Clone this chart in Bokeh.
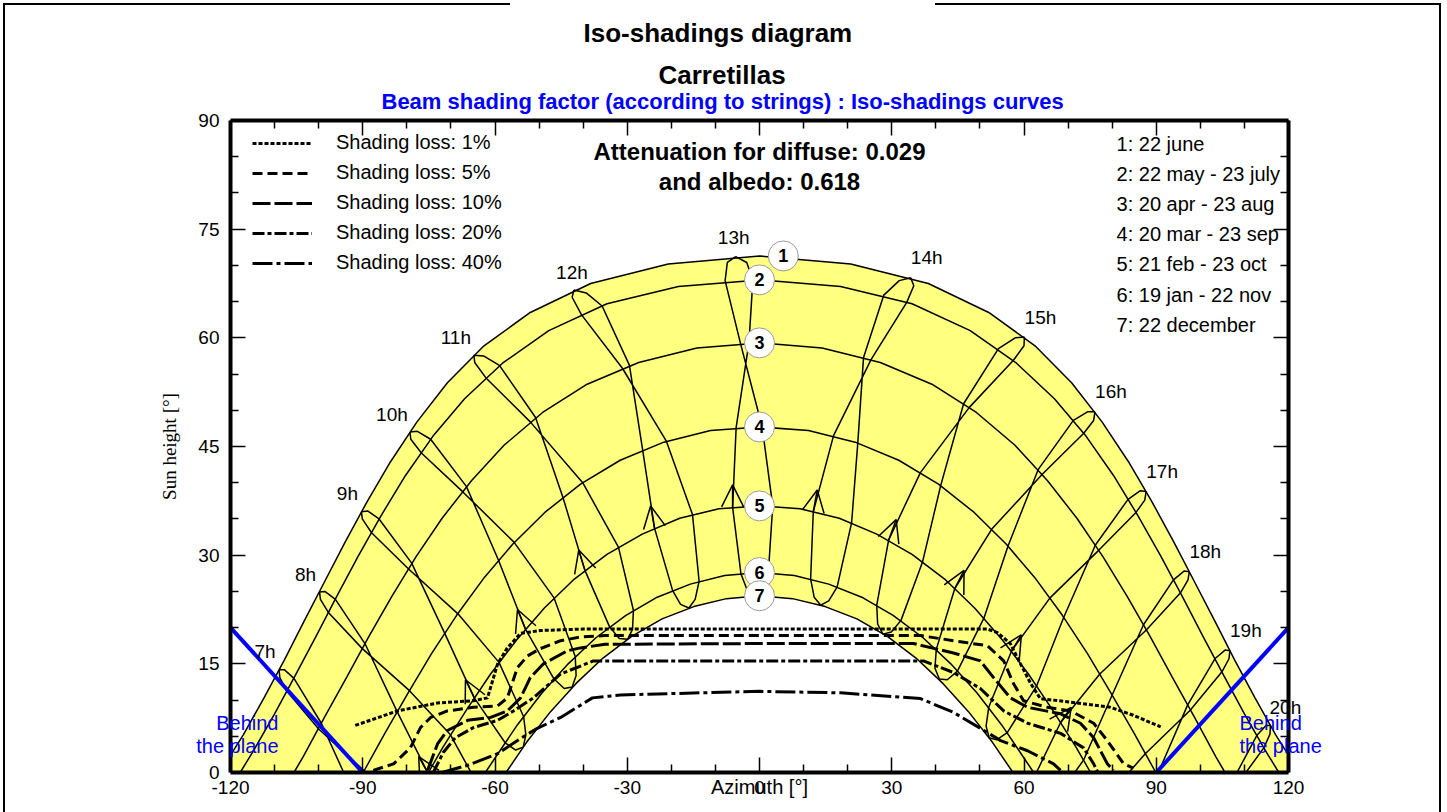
import math
from bokeh.plotting import figure
from bokeh.models import (Range1d, LinearAxis, FixedTicker, Legend, LegendItem, Title,
                          Arrow, OpenHead, ColumnDataSource, Label)
from bokeh.embed import file_html
from bokeh.resources import INLINE
from bokeh.core.properties import value

# ---------------- sun paths for the 7 dates (azimuth, height) ----------------
date_labels = ["1: 22 june", "2: 22 may - 23 july", "3: 20 apr - 23 aug", "4: 20 mar - 23 sep",
               "5: 21 feb - 23 oct", "6: 19 jan - 22 nov", "7: 22 december"]
path1_az = [-122.5,-117.1,-112.4,-107.8,-103.3,-98.7,-94,-89,-83.7,-77.7,-70.8,-62.5,-52,-38.3,-20.7,0,20.7,38.3,52,62.5,70.8,77.7,83.7,89,94,98.7,103.3,107.8,112.4,117.1,122.5]
path1_h = [0,5.2,10.3,15.5,20.9,26.3,31.8,37.4,42.9,48.4,53.8,58.9,63.5,67.5,70.2,71.3,70.2,67.5,63.5,58.9,53.8,48.4,42.9,37.4,31.8,26.3,20.9,15.5,10.3,5.2,0]
path2_az = [-117.8,-114.8,-110.0,-105.3,-100.6,-95.9,-91.0,-85.9,-80.3,-74.1,-66.9,-58.3,-47.8,-34.6,-18.4,0,18.4,34.6,47.8,58.3,66.9,74.1,80.3,85.9,91.0,95.9,100.6,105.3,110.0,114.8,117.8]
path2_h = [0,3.0,8.1,13.4,18.8,24.3,29.9,35.4,41.0,46.4,51.6,56.5,61.0,64.7,67.1,68.0,67.1,64.7,61.0,56.5,51.6,46.4,41.0,35.4,29.9,24.3,18.8,13.4,8.1,3.0,0]
path3_az = [-105.6,-103.5,-98.6,-93.6,-88.6,-83.4,-77.9,-72.0,-65.3,-57.9,-49.2,-39.1,-27.4,-14.2,0,14.2,27.4,39.1,49.2,57.9,65.3,72.0,77.9,83.4,88.6,93.6,98.6,103.5,105.6]
path3_h = [0,2.2,7.7,13.2,18.8,24.3,29.8,35.1,40.3,45.2,49.7,53.6,56.6,58.6,59.3,58.6,56.6,53.6,49.7,45.2,40.3,35.1,29.8,24.3,18.8,13.2,7.7,2.2,0]
path4_az = [-89.9,-84.9,-79.7,-74.4,-68.7,-62.7,-56.0,-48.7,-40.6,-31.6,-21.7,-11.1,0,11.1,21.7,31.6,40.6,48.7,56.0,62.7,68.7,74.4,79.7,84.9,89.9]
path4_h = [0,5.5,11.0,16.4,21.7,26.7,31.5,35.9,39.8,43.1,45.6,47.2,47.7,47.2,45.6,43.1,39.8,35.9,31.5,26.7,21.7,16.4,11.0,5.5,0]
path5_az = [-75.1,-71.8,-66.5,-61,-55.1,-48.8,-42,-34.6,-26.6,-18.1,-9.2,0,9.2,18.1,26.6,34.6,42,48.8,55.1,61,66.5,71.8,75.1]
path5_h = [0,3.5,8.6,13.6,18.3,22.7,26.7,30.1,32.9,35.1,36.4,36.8,36.4,35.1,32.9,30.1,26.7,22.7,18.3,13.6,8.6,3.5,0]
path6_az = [-62.2,-60.1,-54.9,-49.3,-43.4,-37.1,-30.3,-23.2,-15.7,-7.9,0,7.9,15.7,23.2,30.3,37.1,43.4,49.3,54.9,60.1,62.2]
path6_h = [0,1.9,6.6,11,15,18.6,21.7,24.2,26,27.2,27.6,27.2,26,24.2,21.7,18.6,15,11,6.6,1.9,0]
path7_az = [-57.5,-52.8,-47.4,-41.6,-35.5,-29,-22.1,-14.9,-7.5,0,7.5,14.9,22.1,29,35.5,41.6,47.4,52.8,57.5]
path7_h = [0,4.2,8.4,12.3,15.8,18.8,21.2,22.9,24,24.4,24,22.9,21.2,18.8,15.8,12.3,8.4,4.2,0]
paths_az = [path1_az, path2_az, path3_az, path4_az, path5_az, path6_az, path7_az]
paths_h = [path1_h, path2_h, path3_h, path4_h, path5_h, path6_h, path7_h]

# ---------------- hour lines (22 jun, 7 jul, 23 jul, 23 aug, 23 sep, 23 oct, 22 nov, 7 dec,
#                  22 dec, 6 jan, 19 jan, 21 feb, 20 mar, 20 apr, 22 may, 6 jun) ----------------
hours = [7, 8, 9, 10, 11, 12, 13, 14, 15, 16, 17, 18, 19, 20]
hour_az = [
    [-109.0,-108.8,-107.2,-100.0,-89.6,-80.2,-73.5,-72.6,-72.9,-74.6,-77.2,-85.1,-92.3,-99.4,-105.6,-107.8],
    [-99.8,-99.6,-97.8,-90.1,-79.4,-70.1,-63.9,-63.1,-63.6,-65.3,-67.8,-75.2,-82.2,-89.5,-96.2,-98.6],
    [-90.3,-90.1,-88.0,-79.6,-68.4,-59.1,-53.5,-53.0,-53.6,-55.3,-57.7,-64.7,-71.4,-78.9,-86.3,-88.9],
    [-79.3,-79.1,-76.7,-67.4,-55.7,-46.6,-41.8,-41.6,-42.5,-44.3,-46.6,-53.1,-59.2,-66.5,-74.6,-77.6],
    [-64.8,-64.6,-62.1,-52.0,-40.1,-32.0,-28.6,-28.8,-29.9,-31.8,-34.0,-39.6,-44.6,-50.8,-59.0,-62.6],
    [-42.1,-42.5,-40.4,-31.1,-21.1,-15.2,-13.7,-14.6,-16.0,-17.9,-19.7,-23.8,-26.5,-29.5,-35.7,-39.3],
    [-5.4,-7.3,-7.8,-4.3,0.6,3.0,2.0,0.6,-1.1,-2.8,-4.2,-6.1,-5.3,-2.4,-1.5,-2.9],
    [34.3,31.7,28.2,23.6,22.3,20.9,17.6,15.7,13.9,12.4,11.6,12.2,16.8,25.3,33.4,35.0],
    [60.1,58.0,54.2,46.3,41.1,37.0,32.1,29.9,28.0,26.8,26.6,29.3,36.5,47.6,57.6,60.0],
    [76.1,74.5,71.2,63.2,56.4,50.9,44.9,42.6,40.8,39.8,40.1,44.3,52.7,64.2,73.5,75.8],
    [87.7,86.4,83.6,76.2,69.0,62.9,56.2,53.8,52.1,51.4,52.0,57.2,65.9,77.0,85.4,87.4],
    [97.5,96.3,93.9,87.1,80.0,73.5,66.4,63.9,62.2,61.7,62.5,68.3,77.2,87.8,95.5,97.2],
    [106.7,105.6,103.3,97.1,90.2,83.4,75.9,73.3,71.6,71.2,72.2,78.5,87.5,97.7,104.9,106.5],
    [115.9,114.9,112.8,107.0,100.4,93.5,85.3,82.5,80.7,80.4,81.6,88.4,97.7,107.7,114.4,115.8],
]
hour_h = [
    [14.2,13.1,11.2,6.0,0.2,-5.6,-12.1,-14.5,-16.2,-16.9,-16.3,-11.0,-2.7,6.8,13.0,14.2],
    [24.9,23.9,22.1,17.1,11.3,5.2,-1.7,-4.2,-5.9,-6.5,-5.7,-0.1,8.4,17.8,23.9,25.0],
    [36.0,35.0,33.1,28.1,21.9,15.2,7.7,5.2,3.5,3.1,4.1,10.3,19.2,28.9,35.0,36.1],
    [47.0,46.0,44.1,38.8,31.8,24.1,16.0,13.4,11.8,11.6,12.9,19.8,29.3,39.5,46.0,47.1],
    [57.6,56.6,54.5,48.4,40.0,31.1,22.4,19.8,18.4,18.5,20.1,27.9,38.0,49.0,56.2,57.5],
    [66.6,65.6,63.2,55.8,45.7,35.6,26.4,23.9,22.7,23.2,25.1,33.7,44.5,56.2,64.4,66.2],
    [71.2,70.4,67.9,59.2,47.7,36.8,27.5,25.3,24.4,25.2,27.4,36.6,47.6,59.3,68.0,70.4],
    [68.3,67.9,65.9,57.3,45.5,34.5,25.6,23.7,23.1,24.2,26.7,36.0,46.5,57.0,64.9,67.2],
    [60.1,60.0,58.5,50.9,39.6,29.1,21.0,19.4,19.1,20.5,23.1,32.1,41.4,50.4,56.9,58.9],
    [49.8,49.8,48.6,41.8,31.3,21.3,14.0,12.8,12.9,14.4,17.0,25.4,33.6,41.2,46.8,48.6],
    [38.8,38.9,37.7,31.4,21.4,12.0,5.5,4.5,4.8,6.4,9.0,16.8,24.1,30.7,35.9,37.6],
    [27.7,27.8,26.6,20.4,10.7,1.7,-4.3,-5.0,-4.5,-2.8,-0.4,6.9,13.6,19.7,24.8,26.6],
    [16.8,16.9,15.7,9.3,-0.4,-9.2,-14.8,-15.3,-14.7,-13.0,-10.6,-3.7,2.6,8.6,13.9,15.7],
    [6.5,6.5,5.1,-1.5,-11.4,-20.2,-25.7,-26.2,-25.5,-23.8,-21.4,-14.7,-8.5,-2.2,3.4,5.3],
]
# direction arrows on the hour lines (21 feb -> 1 mar), 8h..18h
arrow_from_az = [-75.2,-64.7,-53.1,-39.6,-23.8,-6.1,12.2,29.3,44.3,57.2,68.3]
arrow_from_h = [-0.1,10.3,19.8,27.9,33.7,36.6,36.0,32.1,25.4,16.8,6.9]
arrow_to_az = [-77.3,-66.7,-54.9,-41.0,-24.7,-6.1,13.1,31.0,46.4,59.4,70.7]
arrow_to_h = [2.2,12.8,22.5,30.7,36.8,39.7,39.0,34.9,27.9,19.0,9.0]

# ---------------- iso-shading curves ----------------
iso_labels = ["Shading loss: 1%", "Shading loss: 5%", "Shading loss: 10%", "Shading loss: 20%", "Shading loss: 40%"]
iso1_az = [-91.7,-82.1,-73.0,-64.9,-61.7,-59.4,-57.2,-54.2,-49.7,-40,0,40,51.7,54.0,56.9,59.2,61.5,63.7,72.1,79.6,84.8,91.0]
iso1_h = [6.5,8.5,9.6,9.9,10.3,15.0,17.2,19.2,19.6,19.8,19.8,19.8,19.8,19.3,17.8,15.0,12.3,10.2,9.6,9.0,7.9,6.3]
iso5_az = [-87.6,-83.0,-79.2,-76.9,-74.6,-70.8,-64.9,-59.4,-57.2,-54.9,-52.6,-49.7,-45.1,-40.6,-35,0,36.5,47.2,51.7,55.4,57.6,59.9,65.3,70.6,75.8,78.9,82.6,84.8]
iso5_h = [0.3,1.2,3.4,6.2,7.6,8.5,9.0,9.2,10.3,14.5,16.1,17.1,18.2,18.7,18.9,18.9,18.9,17.9,17.5,15.4,12.3,9.9,9.0,8.5,6.8,4.4,1.2,0.6]
iso10_az = [-75.3,-73.0,-70.8,-66.2,-61.0,-57.2,-54.2,-52.0,-49.0,-43.6,-40.6,-35,0,34.9,44.0,50.1,53.1,56.9,60.8,68.3,72.8,75.8,78.9,80.3]
iso10_h = [0.3,4.0,5.8,7.2,7.6,8.5,10.3,13.1,15.0,16.8,17.2,17.7,17.8,17.8,16.5,15.4,13.1,10.3,9.0,8.1,6.8,4.8,1.2,0.3]
iso20_az = [-74.0,-71.7,-69.0,-64.9,-59.4,-55.8,-51.3,-45.1,-37.7,0,37.2,44.0,50.1,55.4,60.8,68.3,73.5,75.8,76.7]
iso20_h = [0.0,2.8,4.8,6.2,7.2,8.5,10.3,13.6,15.4,15.4,15.4,13.8,11.6,8.5,6.8,5.4,3.4,1.2,0.1]
iso40_az = [-72.0,-66.2,-59.4,-54.2,-50.4,-45.1,-37.9,-31.5,-13.4,0,18.4,36.5,44.0,50.1,54.7,60.8,66.7,68.3]
iso40_h = [0.0,1.0,2.6,4.7,6.1,7.6,10.3,10.7,11.0,11.2,11.0,10.2,8.3,6.1,4.4,3.0,1.2,0.3]
iso_dash = ["4 2", "10 5", "18 4", "12 3 4 3", "20 4 4 4"]

# "behind the plane" limits
behind_left_az = [-120, -90]
behind_left_h = [20, 0]
behind_right_az = [90, 120]
behind_right_h = [0, 20]

FONT = "Liberation Sans"
W, H = 1447, 812
SX, SY = 1058 / 240, 652 / 90   # pixels per degree
outer = ("linear-gradient(#000,#000) 3px 3px / 2px 100% no-repeat, "
         "linear-gradient(#000,#000) 1439px 3px / 2px 100% no-repeat, "
         "linear-gradient(#000,#000) 3px 3px / 507px 2px no-repeat, "
         "linear-gradient(#000,#000) 935px 3px / 506px 2px no-repeat")
p = figure(width=W, height=H, x_range=Range1d(-120, 120), y_range=Range1d(0, 90),
           output_backend="svg", toolbar_location=None,
           min_border_left=230, min_border_right=W - 1288, min_border_top=120, min_border_bottom=H - 772)
p.styles = {"background": outer}
p.border_fill_color = None
p.background_fill_color = None
p.grid.visible = False
p.outline_line_color = None

XT = [-120, -90, -60, -30, 0, 30, 60, 90, 120]
XM = [v for v in range(-110, 120, 10) if v % 30]
YT = [0, 15, 30, 45, 60, 75, 90]
YM = [v for v in range(5, 90, 5) if v % 15]

def style(ax, ticks, minors, standoff):
    ax.ticker = FixedTicker(ticks=ticks, minor_ticks=minors)
    ax.axis_line_width = 4
    ax.axis_line_color = "black"
    ax.major_tick_in = 15
    ax.major_tick_out = 0
    ax.minor_tick_in = 8
    ax.minor_tick_out = 0
    ax.major_tick_line_width = 1.5
    ax.minor_tick_line_width = 1.5
    ax.major_tick_line_color = "black"
    ax.minor_tick_line_color = "black"
    ax.major_label_text_font = FONT
    ax.major_label_text_font_size = "19px"
    ax.major_label_text_color = "black"
    ax.major_label_standoff = standoff

xa = p.xaxis[0]
style(xa, XT, XM, 8)
xa.major_label_overrides = {t: str(t) for t in XT}
xa.axis_label = "Azimuth [°]"
xa.axis_label_text_font = FONT
xa.axis_label_text_font_size = "20px"
xa.axis_label_text_font_style = "normal"
xa.axis_label_text_color = "black"
xa.axis_label_standoff = -21
ya = p.yaxis[0]
style(ya, YT, YM, 11)
top = LinearAxis()
style(top, XT, XM, 0)
top.major_label_overrides = {t: "" for t in XT}
p.add_layout(top, "above")
right = LinearAxis()
style(right, YT, YM, 0)
right.major_label_overrides = {t: "" for t in YT}
p.add_layout(right, "right")

def text_axis(ticks, labels, standoff, color, size):
    ax = LinearAxis(ticker=FixedTicker(ticks=ticks, minor_ticks=[]),
                    major_label_overrides=dict(zip(ticks, labels)))
    ax.axis_line_color = None
    ax.major_tick_line_color = None
    ax.minor_tick_line_color = None
    ax.major_tick_in = 0
    ax.major_tick_out = 0
    ax.minor_tick_in = 0
    ax.minor_tick_out = 0
    ax.major_label_standoff = standoff
    ax.major_label_text_color = color
    ax.major_label_text_font = FONT
    ax.major_label_text_font_size = size
    return ax

# texts lying across the frame edges
behind_h = [6.8, 3.6]
lt = text_axis(behind_h, ["Behind", "the plane"], -83, "#0000FF", "20px")
lt.axis_label = "Sun height [°]"
lt.axis_label_text_font = "Liberation Serif"
lt.axis_label_text_font_size = "19px"
lt.axis_label_text_font_style = "normal"
lt.axis_label_text_color = "black"
lt.axis_label_standoff = 13
p.add_layout(lt, "left")
h20 = hour_h[13][0] + 18 / SY
p.add_layout(text_axis([h20], ["20h"], -19, "black", "19px"), "right")
p.add_layout(text_axis(behind_h, ["Behind", "the plane"], -65, "#0000FF", "20px"), "right")

# titles
p.add_layout(Title(text="Beam shading factor (according to strings) : Iso-shadings curves", align="left", offset=151,
                   text_font=FONT, text_font_size="22px", text_font_style="bold", text_color="#0000FF",
                   vertical_align="middle", text_baseline="middle", standoff=11), "above")
p.add_layout(Title(text="Carretillas", align="left", offset=428, text_font=FONT, text_font_size="26px",
                   text_font_style="bold", text_color="black", vertical_align="middle", text_baseline="middle",
                   standoff=-16), "above")
p.add_layout(Title(text="Iso-shadings diagram", align="left", offset=353, text_font=FONT, text_font_size="26px",
                   text_font_style="bold", text_color="black", vertical_align="top", text_baseline="middle",
                   standoff=34), "above")

# yellow region between 22 june and 22 december paths
p.patch(path1_az + path7_az[::-1], path1_h + path7_h[::-1], fill_color="#FFFF80", line_color=None)
p.multi_line(paths_az, paths_h, line_color="black", line_width=1.5)
p.multi_line([a + a[:1] for a in hour_az], [h + h[:1] for h in hour_h], line_color="black", line_width=1.5)
arr_src = ColumnDataSource(dict(x0=arrow_from_az, y0=arrow_from_h, x1=arrow_to_az, y1=arrow_to_h))
p.add_layout(Arrow(end=OpenHead(size=22, line_width=1.5, line_color="black"), source=arr_src,
                   x_start="x0", y_start="y0", x_end="x1", y_end="y1", line_width=1.5, line_color="black"))

iso_r = []
for (xs, ys), dsh in zip([(iso1_az, iso1_h), (iso5_az, iso5_h), (iso10_az, iso10_h),
                          (iso20_az, iso20_h), (iso40_az, iso40_h)], iso_dash):
    iso_r.append(p.line(xs, ys, line_color="black", line_width=3, line_dash=dsh))

p.line(behind_left_az, behind_left_h, line_color="#0000FF", line_width=4)
p.line(behind_right_az, behind_right_h, line_color="#0000FF", line_width=4)

# date number markers on the paths
circle_az = [5.4, 0, 0, 0, 0, 0, 0]
circle_h = [max(h) for h in paths_h]
p.scatter(circle_az, circle_h, size=30, fill_color="white", line_color="#9a9a9a", line_width=1)
p.text(circle_az, circle_h, text=[str(i + 1) for i in range(7)], text_align="center", text_baseline="middle",
       text_font=value(FONT), text_font_style="bold", text_font_size="18px", text_color="black")

def lab(x, y, text, size=19, bold=False, align="center"):
    p.add_layout(Label(x=x, y=y, text=text, text_font=FONT, text_font_size=f"{size}px",
                       text_font_style="bold" if bold else "normal", text_color="black",
                       text_align=align, text_baseline="middle"))

for i, t in enumerate(hours[:-1]):
    if t <= 9:
        dx, dy = -14, -18
    elif t <= 11:
        dx, dy = -18, -18
    elif t == 12:
        dx, dy = -2, -18
    elif t == 13:
        dx, dy = -2, -19
    else:
        dx, dy = 16, -20
    lab(hour_az[i][0] + dx / SX, hour_h[i][0] - dy / SY, f"{t}h")
for i, s in enumerate(date_labels):
    lab(81.0, 86.8 - i * 30.2 / SY, s, size=20, align="left")
lab(0, 85.7, "Attenuation for diffuse: 0.029", size=24, bold=True)
lab(0, 81.6, "and albedo: 0.618", size=24, bold=True)

leg = Legend(items=[LegendItem(label=l, renderers=[r]) for l, r in zip(iso_labels, iso_r)],
             location=(22, 498), glyph_width=60, glyph_height=20, label_height=20, spacing=7,
             padding=0, margin=0, label_standoff=24, border_line_color=None, background_fill_alpha=0,
             label_text_font=FONT, label_text_font_size="20px", label_text_color="black")
p.add_layout(leg)

open("out.html", "w").write(file_html(p, INLINE))
